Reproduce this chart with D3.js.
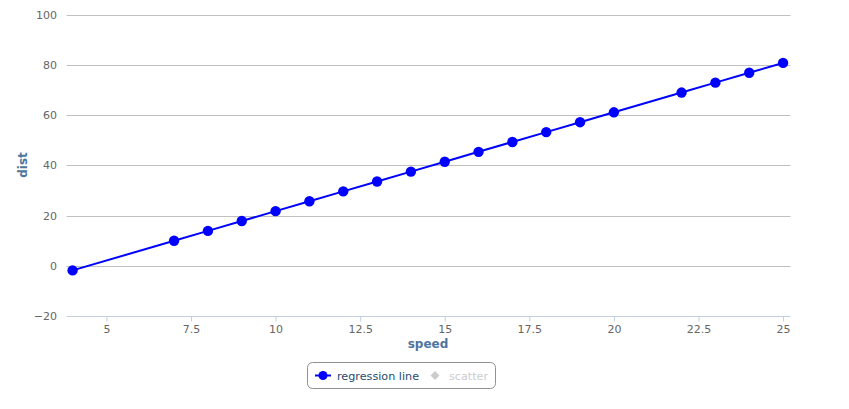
<!DOCTYPE html>
<html><head><meta charset="utf-8">
<script src="https://cdn.jsdelivr.net/npm/d3@7/dist/d3.min.js"></script>
<style>body{margin:0;background:#fff;}svg{display:block;font-family:"DejaVu Sans",sans-serif;}</style>
</head><body>
<script>
const speed = [4, 7, 8, 9, 10, 11, 12, 13, 14, 15, 16, 17, 18, 19, 20, 22, 23, 24, 25];
const dist  = [-1.85, 9.95, 13.88, 17.81, 21.74, 25.68, 29.61, 33.54, 37.47, 41.41, 45.34, 49.27, 53.20, 57.14, 61.07, 68.93, 72.87, 76.80, 80.73];
const xTicks = [5, 7.5, 10, 12.5, 15, 17.5, 20, 22.5, 25];
const yTicks = [-20, 0, 20, 40, 60, 80, 100];
const seriesNames = ["regression line", "scatter"];

const W = 849, H = 409;
const svg = d3.select("body").append("svg").attr("width", W).attr("height", H);
const x = d3.scaleLinear().domain([3.82, 25.22]).range([66.5, 790.5]);
const y = d3.scaleLinear().domain([-20, 100]).range([316, 14.5]);

// grid
svg.append("g").selectAll("line").data(yTicks.filter(d => d !== -20)).join("line")
  .attr("x1", 66.5).attr("x2", 790.5)
  .attr("y1", d => Math.round(y(d)) + 0.5).attr("y2", d => Math.round(y(d)) + 0.5)
  .attr("stroke", "#C0C0C0").attr("stroke-width", 1);

// y labels
svg.append("g").selectAll("text").data(yTicks).join("text")
  .attr("x", 57).attr("y", d => y(d) + 4)
  .attr("text-anchor", "end").attr("font-size", 11).attr("fill", "#666")
  .text(d => d === -20 ? "\u221220" : d);

// x axis
const xAxis = d3.axisBottom(x).tickValues(xTicks).tickSize(5).tickPadding(4).tickFormat(d3.format("~g"));
const gx = svg.append("g").attr("transform", "translate(0," + (Math.round(y(-20)) + 0.5) + ")").call(xAxis);
gx.select(".domain").attr("stroke", "#C0D0E0").attr("d", "M66.5,0H790.5");
gx.selectAll(".tick line").attr("stroke", "#C0D0E0");
gx.selectAll(".tick text").attr("fill", "#666").attr("font-size", 11).attr("font-family", "DejaVu Sans, sans-serif");

// titles
svg.append("text").attr("x", 428).attr("y", 348).attr("text-anchor", "middle")
  .attr("font-size", 12).attr("font-weight", "bold").attr("fill", "#4d759e").text("speed");
svg.append("text").attr("transform", "translate(27,165) rotate(-90)").attr("text-anchor", "middle")
  .attr("font-size", 12).attr("font-weight", "bold").attr("fill", "#4d759e").text("dist");

// line
const data = speed.map((s, i) => [s, dist[i]]);
svg.append("path").datum(data)
  .attr("d", d3.line().x(d => x(d[0])).y(d => y(d[1])))
  .attr("fill", "none").attr("stroke", "#0000FF").attr("stroke-width", 2);
svg.append("g").selectAll("circle").data(data).join("circle")
  .attr("cx", d => x(d[0])).attr("cy", d => y(d[1])).attr("r", 5.2).attr("fill", "#0000FF");

// legend
const lg = svg.append("g");
lg.append("rect").attr("x", 307.5).attr("y", 362.5).attr("width", 188).attr("height", 26)
  .attr("rx", 5).attr("fill", "#fff").attr("stroke", "#909090").attr("stroke-width", 1);
lg.append("line").attr("x1", 315).attr("x2", 331).attr("y1", 375.5).attr("y2", 375.5)
  .attr("stroke", "#0000FF").attr("stroke-width", 2);
lg.append("circle").attr("cx", 323).attr("cy", 375.5).attr("r", 4.5).attr("fill", "#0000FF");
lg.append("text").attr("x", 337).attr("y", 380).attr("font-size", 11.2).attr("fill", "#274b6d").text(seriesNames[0]);
lg.append("path").attr("d", "M0,-4.5L4.5,0L0,4.5L-4.5,0Z")
  .attr("transform", "translate(435,375.5)").attr("fill", "#CCC");
lg.append("text").attr("x", 449).attr("y", 380).attr("font-size", 11.2).attr("fill", "#CCC").text(seriesNames[1]);
</script>
</body></html>
